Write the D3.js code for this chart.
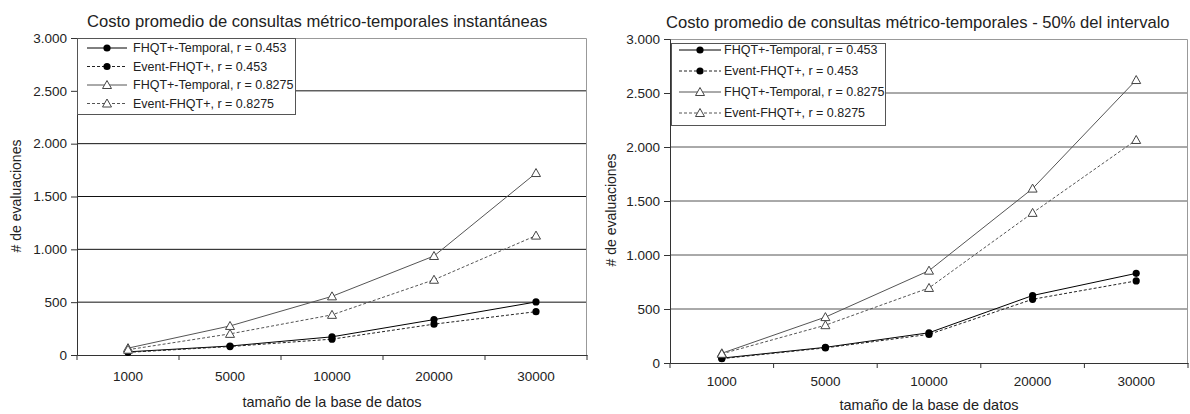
<!DOCTYPE html>
<html>
<head>
<meta charset="utf-8">
<script src="https://cdn.jsdelivr.net/npm/d3@7"></script>
<style>
  body { margin: 0; background: #fff; }
  svg text { font-family: "Liberation Sans", Arial, sans-serif; fill: #222; }
</style>
</head>
<body>
<svg id="chart" width="1190" height="414"></svg>
<script>
// data
const categories = ['1000', '5000', '10000', '20000', '30000'];
const yTicks = [0, 500, 1000, 1500, 2000, 2500, 3000];
const seriesNames = [
  'FHQT+-Temporal, r = 0.453',
  'Event-FHQT+, r = 0.453',
  'FHQT+-Temporal, r = 0.8275',
  'Event-FHQT+, r = 0.8275'
];

// left chart: instantaneas
const instFhqt453 = [30, 85, 172, 335, 502];
const instEvent453 = [25, 80, 150, 292, 410];
const instFhqt8275 = [65, 275, 555, 937, 1722];
const instEvent8275 = [50, 200, 380, 712, 1130];

// right chart: 50% del intervalo
const halfFhqt453 = [45, 145, 280, 625, 830];
const halfEvent453 = [40, 140, 265, 590, 760];
const halfFhqt8275 = [90, 425, 855, 1615, 2620];
const halfEvent8275 = [85, 350, 695, 1390, 2065];

const esFormat = d3.formatLocale({decimal: ',', thousands: '.', grouping: [3], currency: ['', '']}).format(',');

// line style per series: filled circle / open triangle, solid / dashed
const styles = [
  {marker: 'circle', dash: null, stroke: '#000'},
  {marker: 'circle', dash: '3,2', stroke: '#222'},
  {marker: 'triangle', dash: null, stroke: '#555'},
  {marker: 'triangle', dash: '3,2', stroke: '#555'}
];

class LineChart {
  constructor(_config, _series) {
    this.config = _config;
    this.series = _series;
    this.initVis();
  }

  initVis() {
    let vis = this;
    let c = vis.config;

    vis.width = c.right - c.left;
    vis.height = c.bottom - c.top;

    vis.xScale = d3.scaleBand()
        .domain(categories)
        .range([0, vis.width]);

    vis.yScale = d3.scaleLinear()
        .domain([0, 3000])
        .range([vis.height, 0]);

    vis.svg = d3.select('#chart');

    vis.chart = vis.svg.append('g')
        .attr('transform', `translate(${c.left},${c.top})`);

    vis.renderVis();
  }

  renderVis() {
    let vis = this;
    let c = vis.config;

    // gridlines
    vis.chart.selectAll('.grid')
      .data(yTicks.filter(d => d > 0 && d < 3000))
      .join('line')
        .attr('class', 'grid')
        .attr('x1', 0)
        .attr('x2', vis.width)
        .attr('y1', d => vis.yScale(d))
        .attr('y2', d => vis.yScale(d))
        .attr('stroke', c.gridColor)
        .attr('stroke-width', 1);

    // plot border (top & right)
    vis.chart.append('path')
        .attr('d', `M0,0.5H${vis.width - 0.5}V${vis.height}`)
        .attr('fill', 'none')
        .attr('stroke', '#999');

    // y axis
    let yAxis = d3.axisLeft(vis.yScale)
        .tickValues(yTicks)
        .tickSize(6)
        .tickPadding(4)
        .tickFormat(esFormat);
    let yG = vis.chart.append('g').call(yAxis);
    yG.select('.domain').attr('stroke', '#333');
    yG.selectAll('.tick line').attr('stroke', '#333');
    yG.selectAll('text').attr('font-size', 13.5).attr('fill', '#222');

    // x axis: labels under band centres, ticks on band edges
    let xAxis = d3.axisBottom(vis.xScale)
        .tickSize(0)
        .tickPadding(c.xPad);
    let xG = vis.chart.append('g')
        .attr('transform', `translate(0,${vis.height})`)
        .call(xAxis);
    xG.select('.domain').attr('stroke', '#333');
    xG.selectAll('text').attr('font-size', 13.5).attr('fill', '#222');
    let edges = categories.map(d => vis.xScale(d)).concat([vis.width]);
    xG.selectAll('.edge')
      .data(edges)
      .join('line')
        .attr('class', 'edge')
        .attr('x1', d => d)
        .attr('x2', d => d)
        .attr('y1', 0)
        .attr('y2', 5)
        .attr('stroke', '#333');

    // axis titles
    vis.chart.append('text')
        .attr('x', vis.width / 2)
        .attr('y', vis.height + c.xTitleDy)
        .attr('text-anchor', 'middle')
        .attr('font-size', 14.5)
        .text('tamaño de la base de datos');

    vis.chart.append('text')
        .attr('transform', `translate(${c.yTitleX - c.left},${c.yTitleY - c.top}) rotate(-90)`)
        .attr('text-anchor', 'middle')
        .attr('font-size', 14)
        .text('# de evaluaciones');

    // title
    vis.svg.append('text')
        .attr('x', c.titleX)
        .attr('y', c.titleY)
        .attr('font-size', 16.6)
        .text(c.title);

    // series
    let half = vis.xScale.bandwidth() / 2;
    let line = d3.line()
        .x((d, i) => vis.xScale(categories[i]) + half)
        .y(d => vis.yScale(d));

    vis.series.forEach((values, s) => {
      let st = styles[s];
      let g = vis.chart.append('g');
      g.append('path')
          .attr('d', line(values))
          .attr('fill', 'none')
          .attr('stroke', st.stroke)
          .attr('stroke-width', 1)
          .attr('stroke-dasharray', st.dash);
      vis.drawMarkers(g, values.map((v, i) => [vis.xScale(categories[i]) + half, vis.yScale(v)]), st);
    });

    // legend
    let lg = vis.chart.append('g')
        .attr('transform', `translate(${c.legend.x - c.left},${c.legend.y - c.top})`);
    lg.append('rect')
        .attr('x', 0.5)
        .attr('y', 0.5)
        .attr('width', c.legend.w)
        .attr('height', c.legend.h)
        .attr('fill', '#fff')
        .attr('stroke', '#555');
    seriesNames.forEach((name, s) => {
      let st = styles[s];
      let yy = c.legend.first + s * c.legend.step;
      lg.append('line')
          .attr('x1', c.legend.lineX0)
          .attr('x2', c.legend.lineX1)
          .attr('y1', yy)
          .attr('y2', yy)
          .attr('stroke', st.stroke)
          .attr('stroke-dasharray', st.dash);
      vis.drawMarkers(lg, [[(c.legend.lineX0 + c.legend.lineX1) / 2, yy]], st);
      lg.append('text')
          .attr('x', c.legend.textX)
          .attr('y', yy)
          .attr('dy', '0.35em')
          .attr('font-size', 12.5)
          .text(name);
    });
  }

  drawMarkers(g, pts, st) {
    if (st.marker === 'circle') {
      g.selectAll(null)
        .data(pts)
        .join('circle')
          .attr('cx', d => d[0])
          .attr('cy', d => d[1])
          .attr('r', 3.6)
          .attr('fill', '#000');
    } else {
      g.selectAll(null)
        .data(pts)
        .join('path')
          .attr('transform', d => `translate(${d[0]},${d[1]})`)
          .attr('d', 'M0,-4.5L4.5,3.5L-4.5,3.5Z')
          .attr('fill', '#fff')
          .attr('stroke', '#444');
    }
  }
}

new LineChart({
  left: 77, right: 587, top: 38, bottom: 355,
  gridColor: '#111',
  xPad: 16, xTitleDy: 52,
  yTitleX: 21, yTitleY: 196,
  titleX: 87, titleY: 27,
  title: 'Costo promedio de consultas métrico-temporales instantáneas',
  legend: {x: 77, y: 38, w: 218, h: 76, first: 10, step: 18.5, lineX0: 10, lineX1: 50, textX: 56}
}, [instFhqt453, instEvent453, instFhqt8275, instEvent8275]);

new LineChart({
  left: 670, right: 1188, top: 39, bottom: 363,
  gridColor: '#555',
  xPad: 13, xTitleDy: 47,
  yTitleX: 616, yTitleY: 210,
  titleX: 666, titleY: 28,
  title: 'Costo promedio de consultas métrico-temporales - 50% del intervalo',
  legend: {x: 671, y: 43, w: 214, h: 82, first: 7, step: 21, lineX0: 8, lineX1: 50, textX: 53}
}, [halfFhqt453, halfEvent453, halfFhqt8275, halfEvent8275]);
</script>
</body>
</html>
